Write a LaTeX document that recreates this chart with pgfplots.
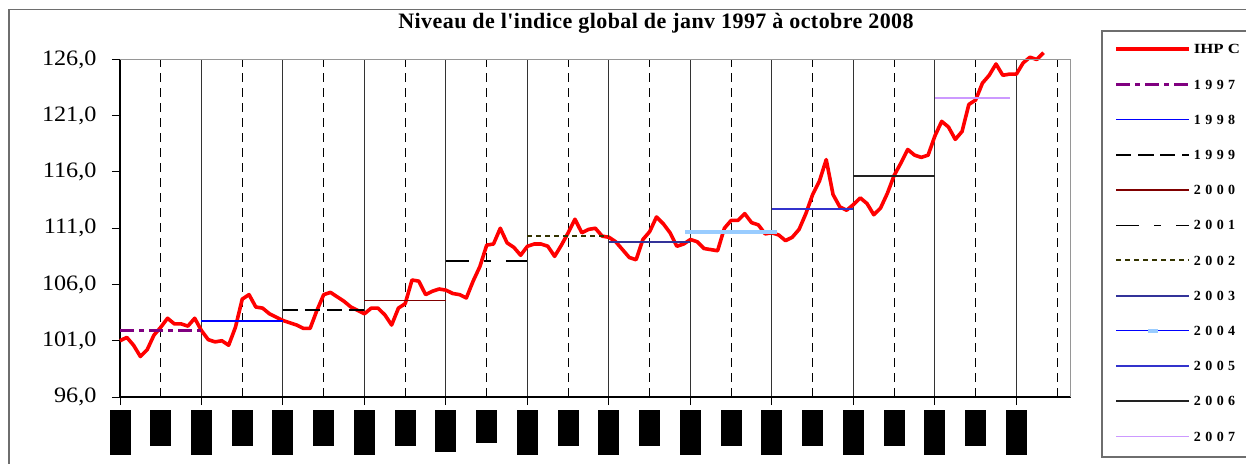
\documentclass[border=0pt]{standalone}
\usepackage{fontspec}
\setmainfont{Liberation Serif}
\newfontfamily\tickfont[FakeStretch=1.1]{Liberation Serif}
\newfontfamily\titlefont[LetterSpace=2]{Liberation Serif}
\newfontfamily\legfont[LetterSpace=32]{Liberation Serif}
\newfontfamily\legnamefont[FakeStretch=1.2]{Liberation Serif}
\usepackage{pgfplots}
\pgfplotsset{compat=1.18}
\usepackage{pgfplotstable}

\definecolor{ihpc}{RGB}{255,0,0}
\definecolor{c97}{RGB}{128,0,128}
\definecolor{c98}{RGB}{0,0,255}
\definecolor{c00}{RGB}{128,0,0}
\definecolor{c02}{RGB}{51,51,0}
\definecolor{c03}{RGB}{51,51,153}
\definecolor{c04m}{RGB}{153,204,255}
\definecolor{c05}{RGB}{51,51,204}
\definecolor{c06}{RGB}{34,34,34}
\definecolor{c07}{RGB}{204,153,255}
\definecolor{framegray}{RGB}{110,110,110}
\definecolor{boxgray}{RGB}{150,150,150}

% month index (0 = janv 1997), IHPC level
\pgfplotstableread{
m v
0 101.0
1 101.3
2 100.6
3 99.6
4 100.2
5 101.5
6 102.2
7 103.0
8 102.5
9 102.5
10 102.3
11 103.0
12 101.9
13 101.1
14 100.9
15 101.0
16 100.6
17 102.2
18 104.7
19 105.1
20 104.0
21 103.9
22 103.4
23 103.1
24 102.8
25 102.6
26 102.4
27 102.1
28 102.1
29 103.7
30 105.1
31 105.3
32 104.9
33 104.5
34 104.0
35 103.7
36 103.4
37 103.9
38 103.9
39 103.3
40 102.4
41 103.9
42 104.3
43 106.4
44 106.3
45 105.1
46 105.4
47 105.6
48 105.5
49 105.2
50 105.1
51 104.8
52 106.3
53 107.6
54 109.5
55 109.6
56 111.0
57 109.7
58 109.3
59 108.6
60 109.4
61 109.6
62 109.6
63 109.4
64 108.5
65 109.5
66 110.6
67 111.8
68 110.6
69 110.9
70 111.0
71 110.3
72 110.2
73 109.8
74 109.1
75 108.4
76 108.2
77 110.0
78 110.7
79 112.0
80 111.4
81 110.6
82 109.4
83 109.6
84 110.0
85 109.8
86 109.2
87 109.1
88 109.0
89 111.0
90 111.7
91 111.7
92 112.3
93 111.5
94 111.3
95 110.5
96 110.6
97 110.4
98 109.9
99 110.2
100 110.9
101 112.3
102 114.0
103 115.2
104 117.1
105 114.0
106 112.9
107 112.6
108 113.1
109 113.7
110 113.2
111 112.2
112 112.8
113 114.1
114 115.7
115 116.8
116 118.0
117 117.5
118 117.3
119 117.5
120 119.2
121 120.5
122 120.0
123 118.9
124 119.6
125 122.0
126 122.4
127 123.9
128 124.6
129 125.6
130 124.6
131 124.7
132 124.7
133 125.7
134 126.2
135 126.0
136 126.6
}\ihpc

\newcommand{\tb}[1]{\rule{21bp}{#1bp}}

\begin{document}
\begin{tikzpicture}
\useasboundingbox (0bp,0bp) rectangle (1246bp,464bp);
\draw[framegray, line width=1.5bp] (9bp,-20bp) -- (9bp,454.7bp) -- (1270bp,454.7bp);
\begin{axis}[
  at={(120bp,67bp)}, anchor=south west,
  width=950.7bp, height=337.5bp, scale only axis,
  xmin=0, xmax=140, ymin=96, ymax=126,
  clip=false,
  axis lines=left, axis line style={-, black, line width=1.3bp},
  tick align=outside, major tick length=8bp,
  tick style={black, line width=1bp},
  xtick={0,12,...,132},
  xticklabels={\tb{45},\tb{45},\tb{45},\tb{45},\tb{41.7},\tb{45},\tb{45},\tb{45},\tb{45},\tb{45},\tb{45},\tb{45}},
  xticklabel style={anchor=north, inner sep=0pt, yshift=-5bp},
  extra x ticks={6,18,...,138},
  extra x tick labels={\tb{36},\tb{36},\tb{36},\tb{36},\tb{32.7},\tb{36},\tb{36},\tb{36},\tb{36},\tb{36},\tb{36},{}},
  extra x tick style={grid=major, tick style={draw=none},
    major grid style={black, line width=1bp, dash pattern=on 9bp off 6bp}},
  xmajorgrids, major grid style={black!80, line width=1bp},
  ytick={96,101,...,126},
  yticklabel style={font=\tickfont\fontsize{22bp}{22bp}\selectfont, xshift=-12bp,
    /pgf/number format/.cd, fixed, fixed zerofill, precision=1, use comma, assume math mode=true},
  title={\titlefont\bfseries\fontsize{22bp}{22bp}\selectfont Niveau de l'indice global de janv 1997 \`a octobre 2008},
  title style={at={(axis description cs:0.5638,1.0735)}, anchor=base, yshift=0pt, inner sep=0pt},
  legend image code/.code={\draw[mark repeat=2,mark phase=2,#1] plot coordinates {(0bp,0bp) (36.5bp,0bp) (73bp,0bp)};},
  legend style={at={(axis description cs:1.04555,1.08326)}, anchor=north west,
    draw=none, fill=none, inner sep=0pt, row sep=0pt,
    font=\legfont\bfseries\fontsize{14bp}{14bp}\selectfont,
    nodes={inner xsep=3bp, inner ysep=0pt, minimum height=35.2bp, text height=9.5bp, text depth=0pt}},
  legend cell align=left,
]
\addplot[ihpc, line width=3.6bp, line join=round] table[x=m, y=v] {\ihpc};
\addplot[c97, line width=2.5bp, dash pattern=on 14bp off 5bp on 5bp off 5bp] coordinates {(0,101.9) (12,101.9)};
\addplot[c98, line width=1.5bp] coordinates {(12,102.76) (24,102.76)};
\addplot[black, line width=2.5bp, dash pattern=on 15bp off 7bp] coordinates {(24,103.74) (36,103.74)};
\addplot[c00, line width=1.4bp] coordinates {(36,104.6) (48,104.6)};
\addplot[black, line width=1.3bp, dash pattern=on 23bp off 15bp on 7bp off 15bp] coordinates {(48,108.1) (60,108.1)};
\addplot[c02, line width=2bp, dash pattern=on 5bp off 4bp] coordinates {(60,110.27) (72,110.27)};
\addplot[c03, line width=2bp] coordinates {(72,109.82) (84,109.82)};
\addplot[c98, line width=1.2bp, mark=-, mark size=5bp, mark options={c04m, line width=3.5bp, solid}] coordinates {
  (84,110.68) (85,110.68) (86,110.68) (87,110.68) (88,110.68) (89,110.68) (90,110.68)
  (91,110.68) (92,110.68) (93,110.68) (94,110.68) (95,110.68) (96,110.68)};
\addplot[c05, line width=1.7bp] coordinates {(96,112.73) (108,112.73)};
\addplot[c06, line width=1.7bp] coordinates {(108,115.67) (120,115.67)};
\addplot[c07, line width=1.7bp] coordinates {(120,122.59) (131,122.59)};
\legend{{\legnamefont\bfseries\fontsize{14bp}{14bp}\selectfont IHP C},1997,1998,1999,2000,2001,2002,2003,2004,2005,2006,2007}
\draw[boxgray, line width=1.3bp] (rel axis cs:0,1) -- (rel axis cs:1,1) -- (rel axis cs:1,0);
\end{axis}
\draw[framegray, line width=1.2bp] (1102bp,7bp) rectangle (1270bp,433bp);
\end{tikzpicture}
\end{document}
